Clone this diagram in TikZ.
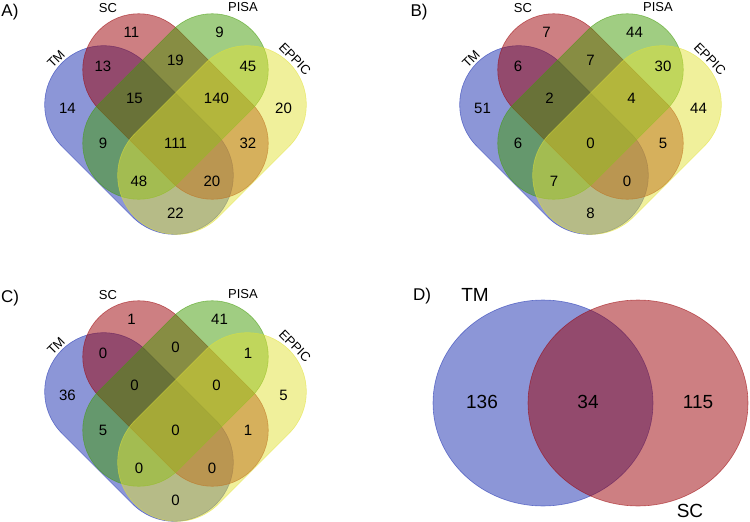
\documentclass[tikz,border=0pt]{standalone}
\usepackage{fontspec}
\setmainfont{Liberation Sans}
\definecolor{tm-blue}{RGB}{25,45,175}
\definecolor{sc-red}{RGB}{155,0,5}
\definecolor{pisa-green}{RGB}{65,155,5}
\definecolor{eppic-yellow}{RGB}{225,225,55}

\tikzset{
  setfill/.style={fill=#1, fill opacity=0.5, draw=#1, draw opacity=0.55, line width=0.6pt},
  count/.style={font=\fontsize{15}{17}\selectfont, inner sep=0pt},
  setname/.style={font=\fontsize{13}{15}\selectfont, inner sep=0pt},
  bigcount/.style={font=\fontsize{19}{21}\selectfont, inner sep=0pt},
  panel/.style={font=\fontsize{17}{19}\selectfont, inner sep=0pt},
}

% one set of a four-set panel: centre, angle, half length, radius, colour
\newcommand{\capsule}[5]{%
  \path[setfill=#5, shift={#1}, rotate=#2]
    (-#3,-#4) -- (#3,-#4) arc[start angle=-90, end angle=90, radius=#4]
    -- (-#3,#4) arc[start angle=90, end angle=270, radius=#4] -- cycle;}

% four-set panel: prefix, x, y, the fifteen counts
\newcommand{\vennfour}[4]{%
  \begin{scope}[shift={(#2,#3)}]
    \capsule{(-36.5,140)}{-45}{50}{59}{tm-blue}
    \capsule{(0,106.5)}{-45}{52}{56}{sc-red}
    \capsule{(0,106.5)}{45}{52}{56}{pisa-green}
    \capsule{(36.5,140)}{45}{50}{59}{eppic-yellow}
    \foreach \px/\py [count=\i from 0] in {-44/32.5, 44/32.5, -72.5/66, 0/60,
        72.5/66, -108/108, -41/98.5, 41/98.5, 108/108, -72.5/143, 0/143,
        72.5/143, -36.5/181, 36.5/181, 0/213}{
      \pgfmathtruncatemacro{\cnt}{{#4}[\i]}
      \node[count] (#1-r\i) at (\px,\py) {\cnt};
    }
    \node[setname, rotate=45] (#1-tm) at (-119.5,59) {TM};
    \node[setname] (#1-sc) at (-67.5,8) {SC};
    \node[setname] (#1-pisa) at (67.5,7) {PISA};
    \node[setname, rotate=-45] (#1-eppic) at (119.5,59) {EPPIC};
  \end{scope}}

\begin{document}
\begin{tikzpicture}[x=1pt, y=-1pt]
  \useasboundingbox (0,0) rectangle (750,522);
  \vennfour{a}{175.5}{0}{11,9,13,19,45,14,15,140,20,9,111,32,48,20,22}
  \vennfour{b}{590.5}{0}{7,44,6,7,30,51,2,4,44,6,0,5,7,0,8}
  \vennfour{c}{175.5}{287}{1,41,0,0,1,36,0,0,5,5,0,1,0,0,0}
  \node[panel] (a-tag) at (10,12) {A)};
  \node[panel] (b-tag) at (419,12) {B)};
  \node[panel] (c-tag) at (10,298) {C)};
  % two-set panel
  \path[setfill=tm-blue] (543,403) ellipse [x radius=110, y radius=103];
  \path[setfill=sc-red] (638,403) ellipse [x radius=110, y radius=103];
  \node[panel] (d-tag) at (422,296) {D)};
  \node[bigcount] (d-tm) at (475,295) {TM};
  \node[bigcount] (d-sc) at (690,511) {SC};
  \node[bigcount] (d-r1) at (482,402) {136};
  \node[bigcount] (d-r2) at (588,402) {34};
  \node[bigcount] (d-r3) at (698,402) {115};
\end{tikzpicture}
\end{document}
